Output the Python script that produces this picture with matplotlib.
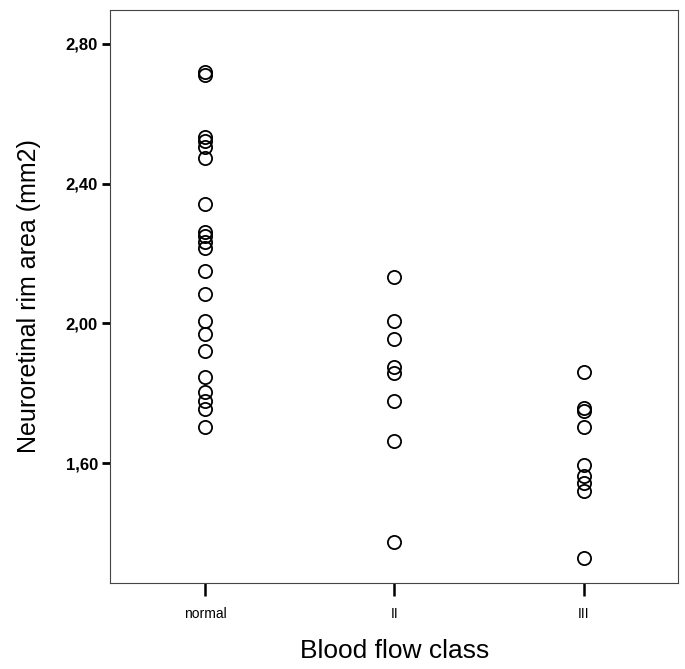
import matplotlib.pyplot as plt

# categories and values
classes = ['normal', 'II', 'III']
rim_normal = [2.72, 2.71, 2.534, 2.523, 2.506, 2.474, 2.343, 2.263, 2.249, 2.234,
              2.217, 2.151, 2.083, 2.006, 1.969, 1.920, 1.846, 1.803, 1.777, 1.754, 1.703]
rim_ii = [2.134, 2.006, 1.954, 1.874, 1.857, 1.777, 1.663, 1.374]
rim_iii = [1.860, 1.757, 1.749, 1.703, 1.594, 1.563, 1.543, 1.520, 1.329]
y_ticks = [1.60, 2.00, 2.40, 2.80]
y_ticklabels = ['1,60', '2,00', '2,40', '2,80']

plt.rcParams['font.family'] = ['Liberation Sans', 'DejaVu Sans']

fig = plt.figure(figsize=(6.85, 6.69), dpi=100)
ax = fig.add_axes([0.161, 0.1286, 0.829, 0.8564])

for i, vals in enumerate([rim_normal, rim_ii, rim_iii]):
    ax.plot([i + 1] * len(vals), vals, linestyle='none', marker='o', markersize=9.5,
            markerfacecolor='none', markeredgecolor='black', markeredgewidth=1.3)

ax.set_xlim(0.5, 3.5)
ax.set_ylim(1.257, 2.897)
ax.set_xticks([1, 2, 3])
ax.set_xticklabels(classes, fontsize=10)
ax.set_yticks(y_ticks)
ax.set_yticklabels(y_ticklabels, fontsize=12, fontweight='semibold')
ax.tick_params(axis='y', direction='out', length=6, width=2, pad=3)
ax.tick_params(axis='x', direction='out', length=9, width=1.8, pad=8)

for s in ax.spines.values():
    s.set_linewidth(0.8)
    s.set_color('#444444')

ax.set_xlabel('Blood flow class', fontsize=19, labelpad=13)
ax.set_ylabel('Neuroretinal rim area (mm2)', fontsize=18, labelpad=18)

fig.savefig('out.png', dpi=100)
